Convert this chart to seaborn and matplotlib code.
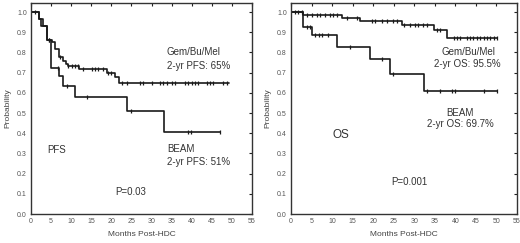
import numpy as np
import matplotlib
matplotlib.use("Agg")
import matplotlib.pyplot as plt
import pandas as pd
import seaborn as sns

sns.set_style("white")
plt.rcParams['font.family'] = ['Liberation Sans', 'DejaVu Sans']

# PFS - Gem/Bu/Mel
pfs_gem_t = [0, 2, 2.4, 4, 5.2, 6, 7, 8, 8.6, 9.2, 12, 19, 21, 22]
pfs_gem_s = [1.0, 0.965, 0.93, 0.86, 0.85, 0.815, 0.775, 0.76, 0.745, 0.735, 0.718, 0.70, 0.68, 0.65]
pfs_gem_end = 49.2
pfs_gem_cens = [4.6, 7.3, 9.3, 10.1, 10.9, 11.8, 13, 15.1, 15.9, 16.8, 18, 19.2, 19.9,
                22.6, 23.8, 27.1, 27.9, 30.0, 32.1, 32.9, 33.8, 35.0, 35.8, 38.3, 39.1,
                40.0, 40.8, 41.6, 43.7, 44.5, 45.3, 47.8, 48.7]
# PFS - BEAM
pfs_beam_t = [0, 2, 3, 4, 5, 7, 8, 11, 24, 33]
pfs_beam_s = [1.0, 0.965, 0.93, 0.86, 0.725, 0.685, 0.635, 0.58, 0.512, 0.408]
pfs_beam_end = 47.1
pfs_beam_cens = [1.0, 4.5, 6.8, 8.9, 14, 24.9, 39, 39.8, 47.1]

# OS - Gem/Bu/Mel
os_gem_t = [0, 3, 12.3, 16.8, 27, 34.8, 37.9]
os_gem_s = [1.0, 0.984, 0.97, 0.955, 0.935, 0.909, 0.873]
os_gem_end = 50.1
os_gem_cens = [1, 1.8, 2.6, 3.8, 5, 6.3, 7.1, 8.3, 9.5, 10.3, 11.1, 13.6, 16, 19.7, 20.5,
               22.1, 23.3, 24.9, 25.8, 27.4, 29, 30.2, 31, 32.2, 33, 35.5, 36.3, 39.6,
               40.4, 41.2, 42.8, 43.6, 44.4, 45.2, 46.1, 46.9, 47.7, 48.5, 49.3, 50.1]
# OS - BEAM
os_beam_t = [0, 3, 5, 11.1, 19.3, 24.1, 32.3]
os_beam_s = [1.0, 0.926, 0.887, 0.827, 0.765, 0.695, 0.607]
os_beam_end = 50.1
os_beam_cens = [3.8, 4.6, 5.8, 6.7, 7.5, 9.1, 14.4, 22.1, 24.9, 33.1, 36.3, 39.2, 40, 46.9, 50.1]

x_ticks = list(range(0, 60, 5))
y_ticks = [round(0.1 * i, 1) for i in range(11)]

LINE = '#1a1a1a'
GREY = '#555555'


def km(ax, t, s, end, cens):
    df = pd.DataFrame({'t': t + [end], 's': s + [s[-1]]})
    sns.lineplot(data=df, x='t', y='s', ax=ax, drawstyle='steps-post',
                 color=LINE, lw=1.2, estimator=None, sort=False)
    idx = np.searchsorted(np.array(t), np.array(cens), side='right') - 1
    cdf = pd.DataFrame({'t': cens, 's': np.array(s)[idx]})
    sns.scatterplot(data=cdf, x='t', y='s', ax=ax, marker='|', s=8,
                    color=LINE, linewidth=0.9)


def style(ax):
    ax.set_xlim(0, 55)
    ax.set_ylim(0, 1.045)
    ax.set_xticks(x_ticks)
    ax.set_yticks(y_ticks)
    ax.set_xticklabels([str(v) for v in x_ticks])
    ax.set_yticklabels([f"{v:.1f}" for v in y_ticks])
    ax.tick_params(direction='in', length=2, width=0.8, labelsize=5,
                   labelcolor=GREY, color='#222222', top=True, right=True,
                   pad=3)
    for sp in ax.spines.values():
        sp.set_color('#333333')
        sp.set_linewidth(1.0)
    ax.set_xlabel('Months Post-HDC', fontsize=6, color='#444444', labelpad=4)
    ax.set_ylabel('Probability', fontsize=6, color='#444444', labelpad=4)


fig = plt.figure(figsize=(5.2, 2.43), dpi=100)
ax1 = fig.add_axes([0.0596, 0.119, 0.425, 0.869])
ax2 = fig.add_axes([0.5596, 0.119, 0.4346, 0.869])

km(ax1, pfs_gem_t, pfs_gem_s, pfs_gem_end, pfs_gem_cens)
km(ax1, pfs_beam_t, pfs_beam_s, pfs_beam_end, pfs_beam_cens)
km(ax2, os_gem_t, os_gem_s, os_gem_end, os_gem_cens)
km(ax2, os_beam_t, os_beam_s, os_beam_end, os_beam_cens)

for ax in (ax1, ax2):
    style(ax)

TXT = '#333333'
ax1.text(33.8, 0.80, 'Gem/Bu/Mel', fontsize=7, color=TXT, va='center')
ax1.text(33.8, 0.735, '2-yr PFS: 65%', fontsize=7, color=TXT, va='center')
ax1.text(33.8, 0.32, 'BEAM', fontsize=7, color=TXT, va='center')
ax1.text(33.8, 0.26, '2-yr PFS: 51%', fontsize=7, color=TXT, va='center')
ax1.text(4, 0.317, 'PFS', fontsize=7, color=TXT, va='center')
ax1.text(21, 0.11, 'P=0.03', fontsize=7, color=TXT, va='center')

ax2.text(43.3, 0.80, 'Gem/Bu/Mel', fontsize=7, color=TXT, va='center', ha='center')
ax2.text(42.9, 0.745, '2-yr OS: 95.5%', fontsize=7, color=TXT, va='center', ha='center')
ax2.text(41.2, 0.50, 'BEAM', fontsize=7, color=TXT, va='center', ha='center')
ax2.text(41.2, 0.445, '2-yr OS: 69.7%', fontsize=7, color=TXT, va='center', ha='center')
ax2.text(10.0, 0.39, 'OS', fontsize=8.5, color=TXT, va='center')
ax2.text(28.8, 0.16, 'P=0.001', fontsize=7, color=TXT, va='center', ha='center')

fig.savefig('out.png', dpi=100)
